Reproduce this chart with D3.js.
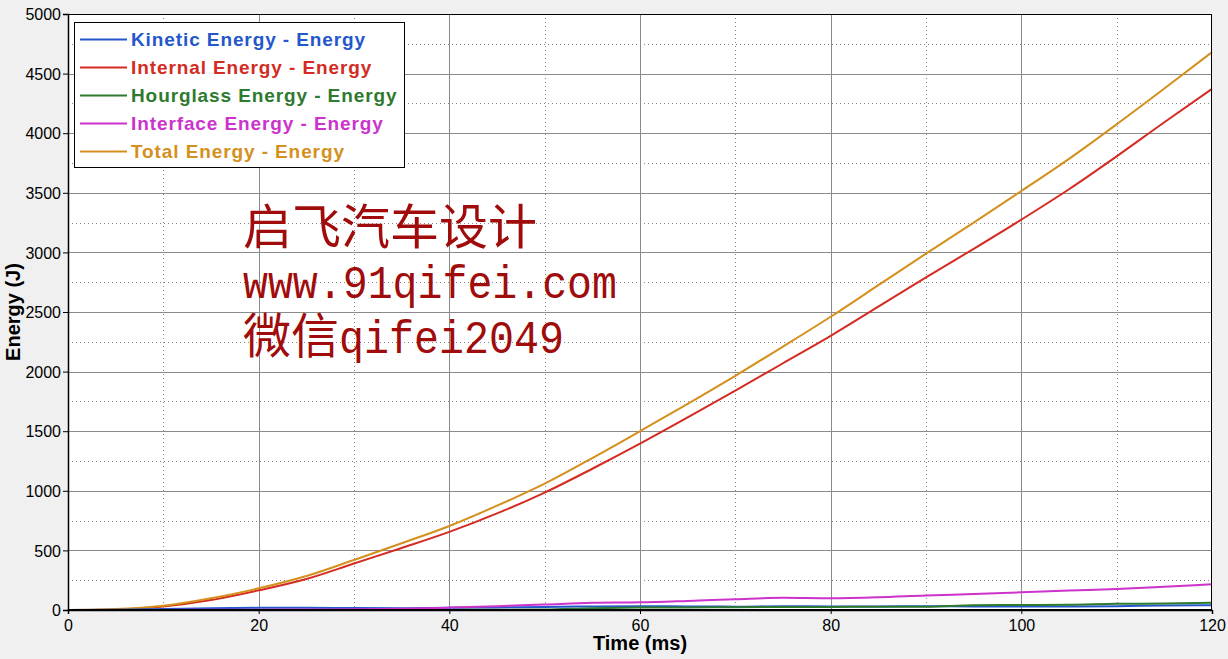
<!DOCTYPE html>
<html>
<head>
<meta charset="utf-8">
<script src="https://cdn.jsdelivr.net/npm/d3@7"></script>
<style>
  html, body { margin: 0; padding: 0; background: #f0f0f0; }
  svg { display: block; }
</style>
</head>
<body>
<svg id="chart" width="1228" height="659"></svg>
<script>
// ---- data ----
const timeMs = [0,5,10,15,20,25,30,35,40,45,50,55,60,65,70,75,80,85,90,95,100,105,110,115,120];
const kineticEnergy   = [0,2,8,15,18,18,16,15,18,22,26,30,32,30,28,32,30,30,32,30,30,30,32,38,40];
const internalEnergy  = [0,5,30,84,165,260,390,520,655,810,985,1185,1395,1615,1840,2070,2300,2545,2790,3030,3275,3530,3806,4092,4372];
const hourglassEnergy = [0,0,0,0,0,0,0,0,1,2,4,15,20,22,24,25,26,27,28,40,42,44,52,54,60];
const interfaceEnergy = [0,0,1,2,3,4,6,10,20,32,46,60,64,76,90,102,98,106,122,134,148,163,176,196,216];
const totalEnergy     = [0,8,36,98,182,285,420,560,705,875,1060,1275,1500,1730,1965,2210,2460,2725,2990,3250,3515,3785,4075,4375,4680];

const seriesNames  = ["Kinetic Energy - Energy","Internal Energy - Energy","Hourglass Energy - Energy","Interface Energy - Energy","Total Energy - Energy"];
const seriesValues = [kineticEnergy, internalEnergy, hourglassEnergy, interfaceEnergy, totalEnergy];
const seriesColors = ["#2457cc","#d42b22","#2e7a2e","#cc33cc","#d4901c"];
const drawOrder    = [1, 4, 0, 2, 3];

const xTicks = [0,20,40,60,80,100,120];
const xMinor = [10,30,50,70,90,110];
const yTicks = [0,500,1000,1500,2000,2500,3000,3500,4000,4500,5000];
const yMinor = [250,750,1250,1750,2250,2750,3250,3750,4250,4750];
const xTitle = "Time (ms)";
const yTitle = "Energy (J)";
const watermark = ["启飞汽车设计","www.91qifei.com","微信qifei2049"];

// ---- layout ----
const L = 68, R = 1212, T = 14, B = 610;
const svg = d3.select("#chart");
const x = d3.scaleLinear().domain([0,120]).range([L,R]);
const y = d3.scaleLinear().domain([0,5000]).range([B,T]);

svg.append("rect").attr("x",L).attr("y",T).attr("width",R-L).attr("height",B-T).attr("fill","#fff");

// grid
const g = svg.append("g");
g.selectAll(".xmin").data(xMinor).join("line")
  .attr("x1",d=>Math.round(x(d))+0.5).attr("x2",d=>Math.round(x(d))+0.5).attr("y1",T).attr("y2",B)
  .attr("stroke","#888").attr("stroke-dasharray","1,3");
g.selectAll(".ymin").data(yMinor).join("line")
  .attr("y1",d=>Math.round(y(d))+0.5).attr("y2",d=>Math.round(y(d))+0.5).attr("x1",L).attr("x2",R)
  .attr("stroke","#888").attr("stroke-dasharray","1,3");
g.selectAll(".xmaj").data(xTicks.slice(1,-1)).join("line")
  .attr("x1",d=>Math.round(x(d))+0.5).attr("x2",d=>Math.round(x(d))+0.5).attr("y1",T).attr("y2",B)
  .attr("stroke","#8a8a8a");
g.selectAll(".ymaj").data(yTicks.slice(1,-1)).join("line")
  .attr("y1",d=>Math.round(y(d))+0.5).attr("y2",d=>Math.round(y(d))+0.5).attr("x1",L).attr("x2",R)
  .attr("stroke","#8a8a8a");

// watermark
const wm = svg.append("g").attr("fill","#a00c0c");
wm.append("text").attr("x",243).attr("y",244).attr("font-family","'Noto Sans CJK SC'").attr("font-size",48)
  .attr("textLength",294).attr("lengthAdjust","spacingAndGlyphs").text(watermark[0]);
wm.append("text").attr("x",243).attr("y",298).attr("font-family","'Liberation Mono'").attr("font-size",46)
  .attr("textLength",374).attr("lengthAdjust","spacingAndGlyphs").text(watermark[1]);
const t3 = wm.append("text").attr("x",243).attr("y",353).attr("font-size",46);
t3.append("tspan").attr("font-family","'Noto Sans CJK SC'").attr("font-size",48).text(watermark[2].slice(0,2));
t3.append("tspan").attr("font-family","'Liberation Mono'").attr("textLength",225).attr("lengthAdjust","spacingAndGlyphs").text(watermark[2].slice(2));

// lines
const line = d3.line().x((d,i)=>x(timeMs[i])).y(d=>y(d)).curve(d3.curveMonotoneX);
svg.append("g").selectAll("path").data(drawOrder).join("path")
  .attr("d",k=>line(seriesValues[k]))
  .attr("fill","none").attr("stroke",k=>seriesColors[k]).attr("stroke-width",2);

// border
svg.append("rect").attr("x",L+0.5).attr("y",T+0.5).attr("width",R-L-1).attr("height",B-T-1)
  .attr("fill","none").attr("stroke","#000");

// axes
const xAxis = d3.axisBottom(x).tickValues(xTicks).tickSize(4).tickPadding(3).tickFormat(d3.format("d"));
const yAxis = d3.axisLeft(y).tickValues(yTicks).tickSize(5).tickPadding(2).tickFormat(d3.format("d"));
const gx = svg.append("g").attr("transform",`translate(0,${B})`).call(xAxis);
const gy = svg.append("g").attr("transform",`translate(${L},0)`).call(yAxis);
[gx,gy].forEach(a=>{
  a.select(".domain").attr("stroke","#000").attr("stroke-width",1.5);
  a.selectAll(".tick line").attr("stroke","#000");
  a.selectAll(".tick text").attr("font-family","'Liberation Sans', Arial, sans-serif").attr("font-size",16).attr("fill","#000");
});
gy.selectAll(".tick text").attr("dy","0.35em");
gx.selectAll(".tick text").attr("dy","0.9em");

svg.append("text").attr("x",640).attr("y",650).attr("text-anchor","middle")
  .attr("font-family","'Liberation Sans', Arial, sans-serif").attr("font-weight","bold").attr("font-size",20).text(xTitle);
svg.append("text").attr("transform","translate(20,312) rotate(-90)").attr("text-anchor","middle")
  .attr("font-family","'Liberation Sans', Arial, sans-serif").attr("font-weight","bold").attr("font-size",20).text(yTitle);

// legend
const lg = svg.append("g");
lg.append("rect").attr("x",74.5).attr("y",22.5).attr("width",330).attr("height",145).attr("fill","#fff").attr("stroke","#000");
const rows = lg.selectAll(".row").data(seriesNames).join("g").attr("transform",(d,i)=>`translate(0,${39.5+i*28})`);
rows.append("line").attr("x1",80).attr("x2",127).attr("stroke",(d,i)=>seriesColors[i]).attr("stroke-width",2);
rows.append("text").attr("x",131).attr("y",6.5).attr("font-family","'Liberation Sans', Arial, sans-serif")
  .attr("font-weight","bold").attr("font-size",19).attr("letter-spacing",0.9)
  .attr("fill",(d,i)=>seriesColors[i]).text(d=>d);
</script>
</body>
</html>
